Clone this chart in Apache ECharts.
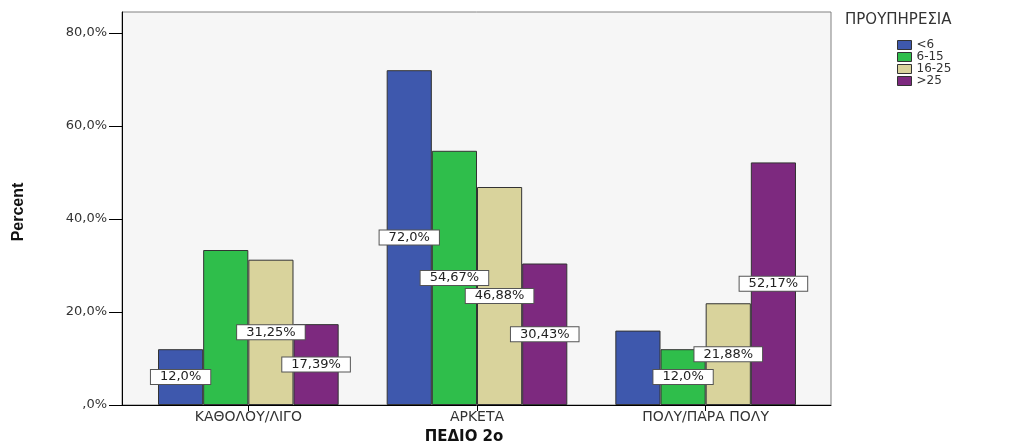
<!DOCTYPE html>
<html>
<head>
<meta charset="utf-8">
<script src="https://cdn.jsdelivr.net/npm/echarts@6/dist/echarts.min.js"></script>
<style>
html,body{margin:0;padding:0;background:#fff;}
#chart{width:1015px;height:448px;}
</style>
</head>
<body>
<div id="chart"></div>
<script>
const categories = ['ΚΑΘΟΛΟΥ/ΛΙΓΟ', 'ΑΡΚΕΤΑ', 'ΠΟΛΥ/ΠΑΡΑ ΠΟΛΥ'];
const seriesNames = ['<6', '6-15', '16-25', '>25'];
const valuesLt6 = [12.0, 72.0, 16.0];
const values6to15 = [33.33, 54.67, 12.0];
const values16to25 = [31.25, 46.88, 21.88];
const valuesGt25 = [17.39, 30.43, 52.17];
const yTicks = [0, 20, 40, 60, 80];
// [seriesIndex, categoryIndex] of value labels that are not displayed
const hiddenLabels = [[1, 0], [0, 2]];
const legendTitle = 'ΠΡΟΥΠΗΡΕΣΙΑ';
const xTitle = 'ΠΕΔΙΟ 2ο';
const yTitle = 'Percent';

const allValues = [valuesLt6, values6to15, values16to25, valuesGt25];
const colors = ['#3e58ad', '#2fbe4b', '#d9d39c', '#7d297f'];
const FONT = 'DejaVu Sans';

function fmtPct(v) {
  let s = v.toFixed(2);
  if (s.endsWith('0')) s = s.slice(0, -1);
  return s.replace('.', ',') + '%';
}
function fmtAxis(v) {
  if (v === 0) return ',0%';
  return v.toFixed(1).replace('.', ',') + '%';
}

const series = allValues.map((vals, si) => ({
  name: seriesNames[si],
  type: 'bar',
  xAxisIndex: 1,
  yAxisIndex: 1,
  barGap: '0%',
  barCategoryGap: '21%',
  itemStyle: { color: colors[si], borderColor: '#333', borderWidth: 1 },
  label: {
    show: true,
    position: 'inside',
    formatter: p => fmtPct(p.value),
    fontFamily: FONT,
    fontSize: 13,
    color: '#222',
    backgroundColor: '#fff',
    borderColor: '#555',
    borderWidth: 1,
    padding: [1, 9, 0, 9]
  },
  data: vals.map((v, ci) => {
    const hide = hiddenLabels.some(h => h[0] === si && h[1] === ci);
    return hide ? { value: v, label: { show: false } } : v;
  })
}));

const chart = echarts.init(document.getElementById('chart'));
chart.setOption({
  animation: false,
  backgroundColor: '#fff',
  textStyle: { fontFamily: FONT },
  grid: [
    { left: 122, top: 12, width: 709, height: 393, show: true,
      backgroundColor: '#f6f6f6', borderColor: '#808080', borderWidth: 1 },
    { left: 134, top: 33, width: 686, height: 372 }
  ],
  xAxis: [
    { gridIndex: 0, type: 'value', min: 0, max: 1,
      axisLine: { show: true, onZero: false, lineStyle: { color: '#000', width: 1 } },
      axisTick: { show: false }, axisLabel: { show: false }, splitLine: { show: false } },
    { gridIndex: 1, type: 'category', data: categories,
      axisLine: { show: false },
      axisTick: { show: true, alignWithLabel: true, length: 6, lineStyle: { color: '#000' } },
      axisLabel: { fontFamily: FONT, fontSize: 14, color: '#333', margin: 5 },
      splitLine: { show: false } }
  ],
  yAxis: [
    { gridIndex: 0, type: 'value', min: 0, max: 1,
      axisLine: { show: true, lineStyle: { color: '#000', width: 1 } },
      axisTick: { show: false }, axisLabel: { show: false }, splitLine: { show: false } },
    { gridIndex: 1, type: 'value', min: yTicks[0], max: yTicks[yTicks.length - 1],
      interval: yTicks[1] - yTicks[0], offset: 12,
      axisLine: { show: false },
      axisTick: { show: true, length: 13, lineStyle: { color: '#000' } },
      axisLabel: { fontFamily: FONT, fontSize: 13, color: '#333', margin: 15, formatter: fmtAxis },
      splitLine: { show: false } }
  ],
  legend: {
    data: seriesNames,
    orient: 'vertical',
    icon: 'rect',
    left: 892,
    top: 34,
    itemWidth: 14,
    itemHeight: 9,
    itemGap: 0,
    textStyle: { fontFamily: FONT, fontSize: 12, color: '#333', lineHeight: 12 },
    itemStyle: { borderColor: '#333', borderWidth: 1 }
  },
  graphic: [
    { type: 'text', left: 845, top: 13,
      style: { text: legendTitle, fontFamily: FONT, fontSize: 15, fill: '#333' } },
    { type: 'text', x: 464, y: 437,
      style: { text: xTitle, fontFamily: FONT, fontSize: 15, fontWeight: 'bold', fill: '#111',
               textAlign: 'center', textVerticalAlign: 'middle' } },
    { type: 'text', x: 19, y: 212, rotation: Math.PI / 2,
      style: { text: yTitle, fontFamily: 'Liberation Sans', fontSize: 16, fontWeight: 'bold', fill: '#111',
               textAlign: 'center', textVerticalAlign: 'middle' } }
  ],
  series: series
});
</script>
</body>
</html>
